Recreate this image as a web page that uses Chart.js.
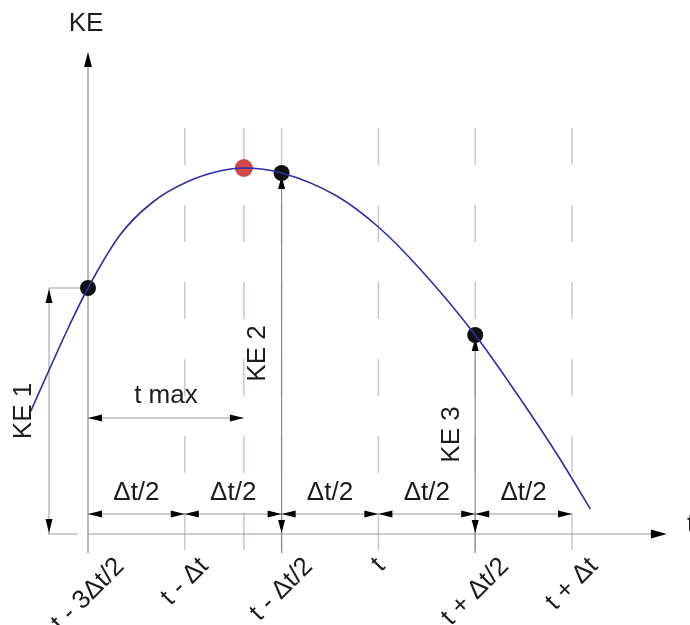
<!DOCTYPE html>
<html>
<head>
<meta charset="utf-8">
<script src="https://cdn.jsdelivr.net/npm/chart.js@4/dist/chart.umd.min.js"></script>
<style>
  html, body { margin: 0; padding: 0; background: #fff; }
  #wrap { width: 690px; height: 625px; }
</style>
</head>
<body>
<div id="wrap"><canvas id="keChart" width="690" height="625"></canvas></div>
<script>
// time in half steps (Δt/2), 0 = t - 3Δt/2
const curveT  = [-0.60, -0.36, -0.19, 0.00, 0.33, 0.67, 1.02, 1.36, 1.61, 2.00, 2.57, 3.00, 3.43, 4.00, 4.46, 4.85, 5.19];
const curveKE = [ 1.21,  1.73,  2.09, 2.46, 2.99, 3.32, 3.52, 3.63, 3.66, 3.61, 3.38, 3.07, 2.65, 1.99, 1.36, 0.79, 0.25];

const sampleT     = [0, 2, 4];
const sampleKE    = [2.46, 3.61, 1.99];
const sampleNames = ['KE 1', 'KE 2', 'KE 3'];

const peakT  = [1.61];
const peakKE = [3.66];

const tickT      = [0, 1, 2, 3, 4, 5];
const tickLabels = ['t - 3Δt/2', 't - Δt', 't - Δt/2', 't', 't + Δt/2', 't + Δt'];
const stepLabel  = 'Δt/2';

const FONT = '26px "Liberation Sans", Arial, sans-serif';
const INK = '#1c1c1c';
const DIM = '#9a9a9a';

function head(ctx, x, y, ang, len, hw){
  const c = Math.cos(ang), s = Math.sin(ang);
  const bx = x - len*c, by = y - len*s;
  ctx.beginPath();
  ctx.moveTo(x, y);
  ctx.lineTo(bx - hw*s, by + hw*c);
  ctx.lineTo(bx + hw*s, by - hw*c);
  ctx.closePath();
  ctx.fillStyle = '#000';
  ctx.fill();
}
function seg(ctx, x1, y1, x2, y2, color, w){
  ctx.beginPath();
  ctx.moveTo(x1, y1); ctx.lineTo(x2, y2);
  ctx.strokeStyle = color; ctx.lineWidth = w || 1;
  ctx.stroke();
}
function rotText(ctx, txt, x, y, ang){
  ctx.save();
  ctx.translate(x, y);
  ctx.rotate(ang);
  ctx.textAlign = 'center';
  ctx.textBaseline = 'middle';
  ctx.fillText(txt, 0, 0);
  ctx.restore();
}

const diagram = {
  id: 'keDiagram',
  beforeDatasetsDraw(chart){
    const { ctx, scales: { x, y } } = chart;
    const X = v => x.getPixelForValue(v), Y = v => y.getPixelForValue(v);
    const y0 = Y(0), gridTop = Y(4.06), gridBot = y0 + 19;
    ctx.save();

    // dashed guides at each step and at t max
    ctx.setLineDash([37, 40]);
    tickT.slice(1).forEach(t => seg(ctx, X(t), gridTop, X(t), gridBot, '#c9c9c9', 1.5));
    seg(ctx, X(peakT[0]), gridTop, X(peakT[0]), gridBot, '#dcbcbc', 1.5);
    ctx.setLineDash([]);

    // axes
    seg(ctx, X(0), gridBot, X(0), Y(4.70), '#8a8a8a', 1.2);
    head(ctx, X(0), Y(4.82), -Math.PI/2, 15, 4);
    seg(ctx, X(0) - 1, y0, X(5.85), y0, '#9a9a9a', 1.2);
    head(ctx, X(5.98), y0, 0, 16, 4.5);

    // KE 1 dimension (left of the axis)
    const k1x = X(0) - 39, k1y = Y(sampleKE[0]);
    seg(ctx, k1x, k1y, X(0) - 6, k1y, DIM);
    seg(ctx, k1x - 1, y0, X(0) - 10, y0, DIM);
    seg(ctx, k1x, k1y, k1x, y0, DIM);
    head(ctx, k1x, k1y + 1, -Math.PI/2, 14, 3.5);
    head(ctx, k1x, y0 - 1, Math.PI/2, 14, 3.5);

    // KE 2 / KE 3 verticals
    [1, 2].forEach(i => {
      const px = X(sampleT[i]), py = Y(sampleKE[i]);
      seg(ctx, px, py, px, gridBot, '#8a8a8a', 1.2);
      head(ctx, px, py + 3, -Math.PI/2, 13, 3.5);
      head(ctx, px, y0 - 1, Math.PI/2, 13, 3.5);
    });

    // t max span
    const ry = Y(1.16);
    seg(ctx, X(0), ry, X(peakT[0]), ry, DIM);
    head(ctx, X(0), ry, Math.PI, 14, 3.5);
    head(ctx, X(peakT[0]), ry, 0, 14, 3.5);

    // Δt/2 spans
    const sy = Y(0.20);
    for (let i = 0; i < tickT.length - 1; i++){
      const a = X(tickT[i]), b = X(tickT[i+1]);
      seg(ctx, a, sy, b, sy, DIM);
      head(ctx, a, sy, Math.PI, 14, 3.5);
      head(ctx, b, sy, 0, 14, 3.5);
    }
    ctx.restore();
  },
  afterDatasetsDraw(chart){
    const { ctx, scales: { x, y } } = chart;
    const X = v => x.getPixelForValue(v), Y = v => y.getPixelForValue(v);
    const y0 = Y(0);
    ctx.save();
    ctx.font = FONT;
    ctx.fillStyle = INK;

    ctx.textAlign = 'center';
    ctx.textBaseline = 'alphabetic';
    ctx.fillText('KE', X(0) - 2, 31);
    ctx.textAlign = 'left';
    ctx.fillText('t', 687, y0 - 2);

    ctx.textAlign = 'center';
    ctx.fillText('t max', (X(0) + X(peakT[0])) / 2, Y(1.16) - 15);
    for (let i = 0; i < tickT.length - 1; i++){
      ctx.fillText(stepLabel, (X(tickT[i]) + X(tickT[i+1])) / 2, Y(0.20) - 14);
    }

    // vertical value labels
    const offs = [-64, -24, -23];
    sampleNames.forEach((n, i) => {
      rotText(ctx, n, X(sampleT[i]) + offs[i], Y(sampleKE[i] / 2), -Math.PI/2);
    });

    // slanted time labels under the axis
    tickLabels.forEach((lab, i) => {
      const w = ctx.measureText(lab).width;
      const cy = y0 + 22 + 0.354 * (w + 18);
      rotText(ctx, lab, X(tickT[i]), cy, -Math.PI/4);
    });
    ctx.restore();
  }
};

new Chart(document.getElementById('keChart'), {
  type: 'scatter',
  data: {
    datasets: [
      {
        data: curveT.map((t, i) => ({ x: t, y: curveKE[i] })),
        showLine: true,
        borderColor: '#2d2da8',
        borderWidth: 1.6,
        pointRadius: 0,
        cubicInterpolationMode: 'monotone',
        fill: false,
        clip: false
      },
      {
        data: sampleT.map((t, i) => ({ x: t, y: sampleKE[i] })),
        pointRadius: 8,
        backgroundColor: '#111',
        borderWidth: 0,
        clip: false
      },
      {
        data: peakT.map((t, i) => ({ x: t, y: peakKE[i] })),
        pointRadius: 9,
        backgroundColor: '#d04a4c',
        borderWidth: 0,
        clip: false
      }
    ]
  },
  options: {
    responsive: false,
    animation: false,
    devicePixelRatio: 1,
    // x runs -0.8 … 5.2 so that 0 sits at 88px with 96.8px per half step
    layout: { padding: { left: 10.56, right: 98.64, top: 34, bottom: 91 } },
    plugins: { legend: { display: false }, tooltip: { enabled: false } },
    scales: {
      x: { type: 'linear', min: -0.8, max: 5.2, display: false },
      y: { type: 'linear', min: 0, max: 5, display: false }
    }
  },
  plugins: [diagram]
});
</script>
</body>
</html>
